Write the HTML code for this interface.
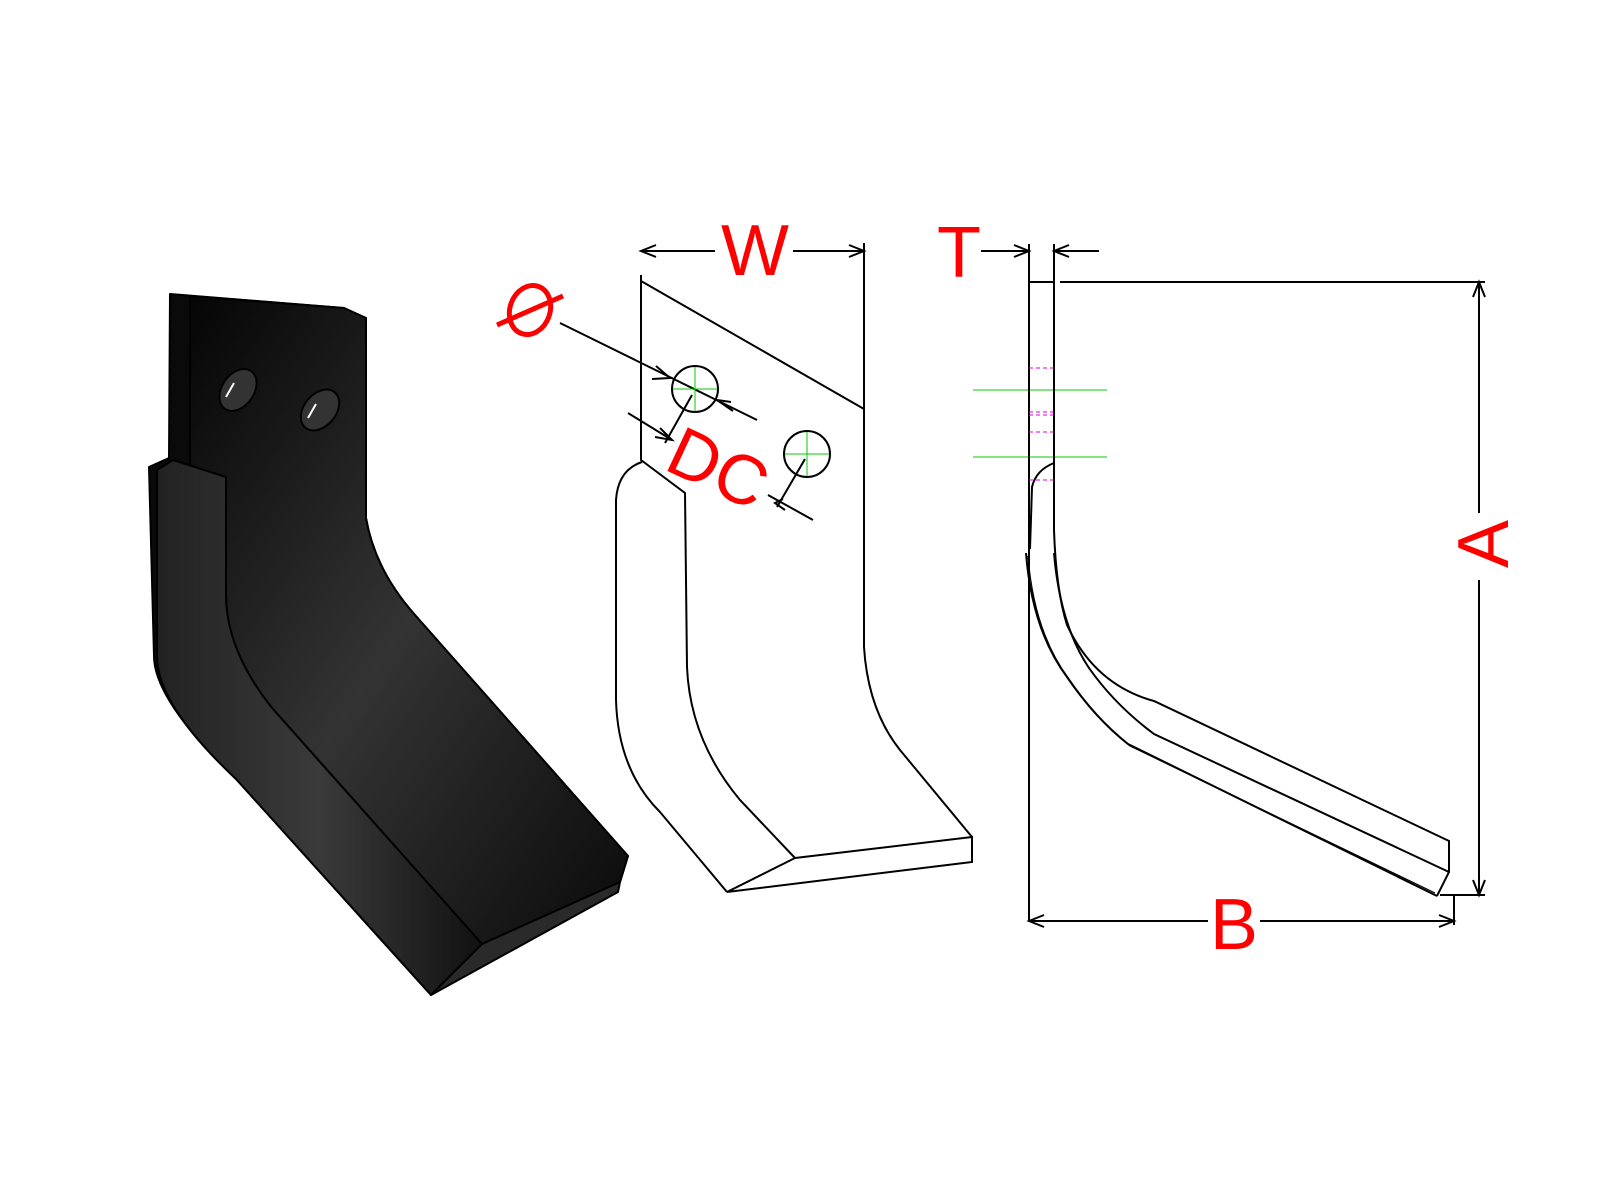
<!DOCTYPE html>
<html><head><meta charset="utf-8"><style>
html,body{margin:0;padding:0;background:#fff;}
svg{display:block;}
text{font-family:"Liberation Sans",sans-serif;fill:#f00;}
</style></head><body>
<svg width="1600" height="1200" viewBox="0 0 1600 1200" xmlns="http://www.w3.org/2000/svg">
<defs>
<linearGradient id="g1" x1="0" y1="0" x2="1" y2="1">
<stop offset="0" stop-color="#050505"/><stop offset="0.5" stop-color="#333"/><stop offset="1" stop-color="#0a0a0a"/>
</linearGradient>
<linearGradient id="g2" x1="0" y1="0" x2="1" y2="0">
<stop offset="0" stop-color="#222"/><stop offset="0.5" stop-color="#3a3a3a"/><stop offset="1" stop-color="#111"/>
</linearGradient>
</defs>
<!-- Black blade -->
<g stroke="#000" stroke-width="2" stroke-linejoin="round">
<path d="M170,294 L344,308 L366,318 L366,518 Q375,570 415,615 L628,856 L620,882 L431,995 L236,779 Q154,700 154,656 L149,467 L169,458 L170,294 Z" fill="#0a0a0a"/>
<path d="M190,296 L344,308 L366,318 L366,518 Q375,570 415,615 L628,856 L620,882 L482,944 L272,708 Q226,650 226,595 L226,477 L190,466 Z" fill="url(#g1)"/>
<path d="M157,470 L173,460 L226,477 L226,595 Q226,650 272,708 L482,944 L431,995 L236,779 Q157,705 157,656 Z" fill="url(#g2)"/>
<path d="M482,944 L620,882 L618,892 L431,995 Z" fill="#2a2a2a"/>
<ellipse cx="238" cy="390" rx="16" ry="23" transform="rotate(35 238 390)" fill="#333"/>
<ellipse cx="320" cy="410" rx="16" ry="23" transform="rotate(40 320 410)" fill="#333"/>
</g>
<path d="M226,397 L234,383" stroke="#fff" stroke-width="2"/>
<path d="M308,418 L316,404" stroke="#fff" stroke-width="2"/>

<!-- Front outline view -->
<g fill="none" stroke="#000" stroke-width="2">
<path d="M641,281 L864,409"/>
<path d="M641,275 L641,460 L685,493 L687,667 Q690,740 740,800 L795,858 L727,892 L972,862 L972,837 L795,858"/>
<path d="M642,462 Q618,470 616,500 L616,700 Q618,770 660,812 L727,892"/>
<path d="M864,243 L864,647 Q868,710 900,750 L972,837"/>
<circle cx="695" cy="389" r="23"/>
<circle cx="807" cy="454" r="23"/>
<path d="M641,251 L715,251 M793,251 L864,251"/>
<path d="M656,245 L641,251 L656,257 M849,245 L864,251 L849,257"/>
<path d="M560,323 L757,420"/>
<path d="M656,366 L670,378 L652,379 M731,402 L717,400 L733,411"/>
<path d="M692,395 L665,443 M628,413 L672,440 M660,428 L672,440 L655,437"/>
<path d="M805,459 L777,507 M768,495 L813,520 M783,499 L775,503 L785,510"/>
</g>
<g stroke="#0c0" stroke-width="1">
<path d="M673,389 L717,389 M695,367 L695,411 M785,454 L829,454 M807,432 L807,476"/>
<path d="M973,390 L1107,390 M973,457 L1107,457"/>
</g>
<text x="755" y="275" font-size="72" text-anchor="middle">W</text>
<text x="959" y="277" font-size="72" text-anchor="middle">T</text>
<text x="1234" y="949" font-size="72" text-anchor="middle">B</text>
<text x="0" y="0" font-size="72" text-anchor="middle" transform="translate(1508,544) rotate(-90)">A</text>
<text x="0" y="0" font-size="70" text-anchor="middle" transform="translate(708,490) rotate(25)">DC</text>
<g stroke="#f00" stroke-width="5" fill="none">
<ellipse cx="530" cy="310" rx="20" ry="25" transform="rotate(20 530 310)"/>
<path d="M497,325 L563,296"/>
</g>

<!-- Side view -->
<g fill="none" stroke="#000" stroke-width="2">
<path d="M1029,244 L1029,921 M1054,244 L1054,463"/>
<path d="M1029,282 L1054,282 M1060,282 L1485,282"/>
<path d="M981,251 L1029,251 M1054,251 L1099,251 M1014,245 L1029,251 L1014,257 M1069,245 L1054,251 L1069,257"/>
<path d="M1479,282 L1479,513 M1479,580 L1479,895 M1440,895 L1485,895"/>
<path d="M1473,297 L1479,282 L1485,297 M1473,880 L1479,895 L1485,880"/>
<path d="M1029,921 L1208,921 M1260,921 L1454,921 M1454,895 L1454,925"/>
<path d="M1044,915 L1029,921 L1044,927 M1439,915 L1454,921 L1439,927"/>
<path d="M1054,463 L1054,530 Q1056,590 1067,625 Q1095,685 1154,701 L1449,841 L1449,872 L1437,896"/>
<path d="M1054,553 Q1060,625 1089,668 Q1115,705 1154,734 L1449,872"/>
<path d="M1026,553 Q1032,630 1067,677 Q1095,718 1128,744 L1437,896"/>
<path d="M1028,556 Q1034,632 1069,679 Q1097,720 1130,746 L1435,893" stroke-width="1.2"/>
<path d="M1054,463 Q1036,470 1032,487 L1030,549"/>
</g>
<g stroke="#d0d" stroke-width="1" stroke-dasharray="4,3">
<path d="M1029,368 L1054,368 M1029,412 L1054,412 M1029,415 L1054,415 M1029,432 L1054,432 M1029,480 L1054,480"/>
</g>
</svg>
</body></html>
